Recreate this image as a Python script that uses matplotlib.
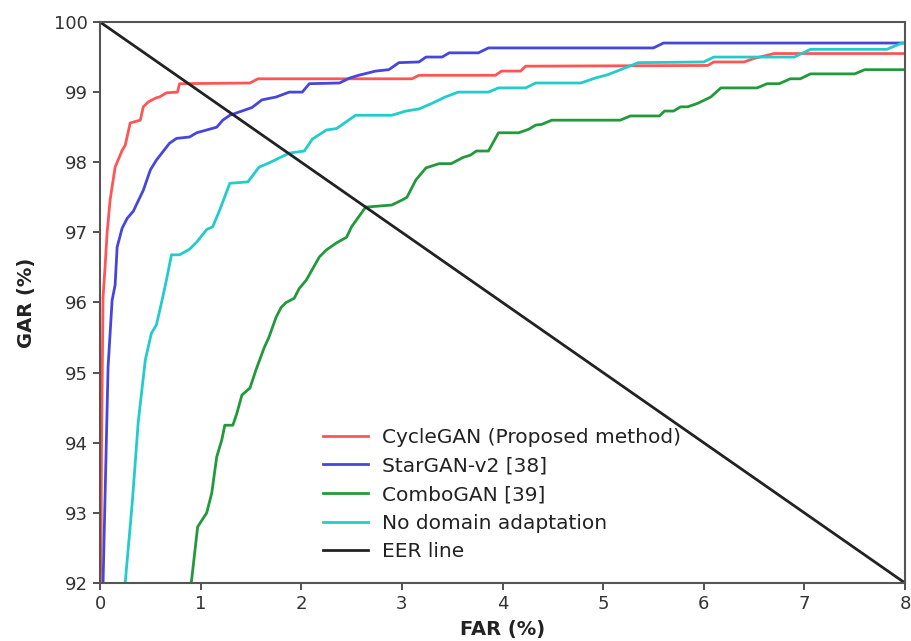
import matplotlib
matplotlib.use('Agg')
import matplotlib.pyplot as plt

# FAR (%) / GAR (%) points
cycle_far = [0.0, 0.01, 0.015, 0.03, 0.05, 0.07, 0.1, 0.12, 0.15, 0.22, 0.25, 0.3, 0.4, 0.43, 0.48,
             0.56, 0.59, 0.66, 0.77, 0.79, 1.49, 1.57, 3.1, 3.17, 3.93, 3.99, 4.18, 4.23, 6.04,
             6.1, 6.4, 6.5, 6.7, 8.0]
cycle_gar = [91.8, 92.5, 94.0, 96.08, 96.5, 96.99, 97.46, 97.65, 97.93, 98.17, 98.24, 98.56, 98.6,
             98.79, 98.86, 98.92, 98.93, 98.99, 99.0, 99.12, 99.13, 99.19, 99.19, 99.24, 99.24,
             99.3, 99.3, 99.37, 99.38, 99.43, 99.43, 99.48, 99.55, 99.55]

star_far = [0.02, 0.03, 0.06, 0.08, 0.12, 0.15, 0.17, 0.22, 0.27, 0.33, 0.43, 0.5, 0.56, 0.69, 0.76,
            0.89, 0.96, 1.06, 1.16, 1.22, 1.29, 1.39, 1.51, 1.61, 1.75, 1.88, 2.01, 2.08, 2.38,
            2.48, 2.57, 2.74, 2.87, 2.97, 3.17, 3.24, 3.4, 3.47, 3.76, 3.86, 5.5, 5.6, 8.0]
star_gar = [91.8, 92.0, 93.85, 95.08, 96.03, 96.25, 96.79, 97.06, 97.2, 97.3, 97.6, 97.89, 98.03,
            98.27, 98.34, 98.36, 98.42, 98.46, 98.5, 98.6, 98.67, 98.72, 98.78, 98.89, 98.93,
            99.0, 99.0, 99.12, 99.13, 99.2, 99.24, 99.3, 99.32, 99.42, 99.43, 99.5, 99.5, 99.56,
            99.56, 99.63, 99.63, 99.7, 99.7]

combo_far = [0.88, 0.91, 0.97, 1.06, 1.11, 1.16, 1.21, 1.24, 1.32, 1.36, 1.41, 1.49, 1.55, 1.63,
             1.68, 1.75, 1.8, 1.85, 1.93, 1.98, 2.05, 2.18, 2.25, 2.35, 2.45, 2.5, 2.64, 2.9, 3.0,
             3.05, 3.14, 3.24, 3.37, 3.49, 3.61, 3.68, 3.74, 3.86, 3.96, 4.16, 4.26, 4.33, 4.39,
             4.49, 5.17, 5.27, 5.56, 5.61, 5.7, 5.77, 5.84, 5.94, 6.07, 6.17, 6.53, 6.63, 6.75,
             6.86, 6.96, 7.06, 7.5, 7.6, 8.0]
combo_gar = [91.8, 92.04, 92.8, 93.0, 93.28, 93.8, 94.04, 94.25, 94.25, 94.42, 94.68, 94.78,
             95.04, 95.35, 95.51, 95.79, 95.93, 96.0, 96.06, 96.2, 96.32, 96.65, 96.75, 96.85,
             96.93, 97.08, 97.36, 97.39, 97.46, 97.5, 97.75, 97.92, 97.98, 97.98, 98.07, 98.1,
             98.16, 98.16, 98.42, 98.42, 98.47, 98.53, 98.54, 98.6, 98.6, 98.66, 98.66, 98.73,
             98.73, 98.79, 98.79, 98.84, 98.93, 99.06, 99.06, 99.12, 99.12, 99.19, 99.19, 99.26,
             99.26, 99.32, 99.32]

noda_far = [0.24, 0.25, 0.32, 0.38, 0.45, 0.51, 0.56, 0.61, 0.66, 0.71, 0.79, 0.89, 0.96, 1.06,
            1.12, 1.19, 1.29, 1.47, 1.58, 1.68, 1.88, 2.03, 2.11, 2.25, 2.35, 2.54, 2.9, 3.04,
            3.17, 3.3, 3.43, 3.56, 3.86, 3.96, 4.23, 4.33, 4.78, 4.92, 5.05, 5.35, 6.0, 6.1,
            6.9, 7.06, 7.82, 7.97, 8.0]
noda_gar = [91.8, 92.0, 93.14, 94.3, 95.18, 95.56, 95.68, 95.99, 96.32, 96.68, 96.68, 96.76,
            96.86, 97.04, 97.08, 97.32, 97.7, 97.72, 97.93, 97.99, 98.13, 98.16, 98.33, 98.46,
            98.48, 98.67, 98.67, 98.73, 98.76, 98.84, 98.93, 99.0, 99.0, 99.06, 99.06, 99.13,
            99.13, 99.2, 99.25, 99.42, 99.43, 99.5, 99.5, 99.61, 99.61, 99.7, 99.7]

eer_far = [0, 8]
eer_gar = [100, 92]

fig = plt.figure(figsize=(9.11, 6.41), dpi=100)
ax = fig.add_axes([0.1098, 0.0905, 0.8836, 0.8752])

ax.plot(cycle_far, cycle_gar, color='#ff5555', lw=2, label='CycleGAN (Proposed method)')
ax.plot(star_far, star_gar, color='#4646dc', lw=2, label='StarGAN-v2 [38]')
ax.plot(combo_far, combo_gar, color='#22993a', lw=2, label='ComboGAN [39]')
ax.plot(noda_far, noda_gar, color='#22cccc', lw=2, label='No domain adaptation')
ax.plot(eer_far, eer_gar, color='#222222', lw=2, label='EER line')

ax.set_xlim(0, 8)
ax.set_ylim(92, 100)
ax.set_xticks(range(0, 9))
ax.set_yticks(range(92, 101))
ax.tick_params(labelsize=13, colors='#333333', length=5, width=1.2)
for s in ax.spines.values():
    s.set_color('#555555')
    s.set_linewidth(1.5)

ax.set_xlabel('FAR (%)', fontsize=14, fontweight='bold', color='#222222', labelpad=5)
ax.set_ylabel('GAR (%)', fontsize=14, fontweight='bold', color='#222222', labelpad=13)

ax.legend(loc='lower left', bbox_to_anchor=(0.255, 0.006), frameon=False, fontsize=14.5,
          handlelength=2.2, labelspacing=0.48, handletextpad=0.7, labelcolor='#222222')

plt.savefig('out.png', dpi=100)
